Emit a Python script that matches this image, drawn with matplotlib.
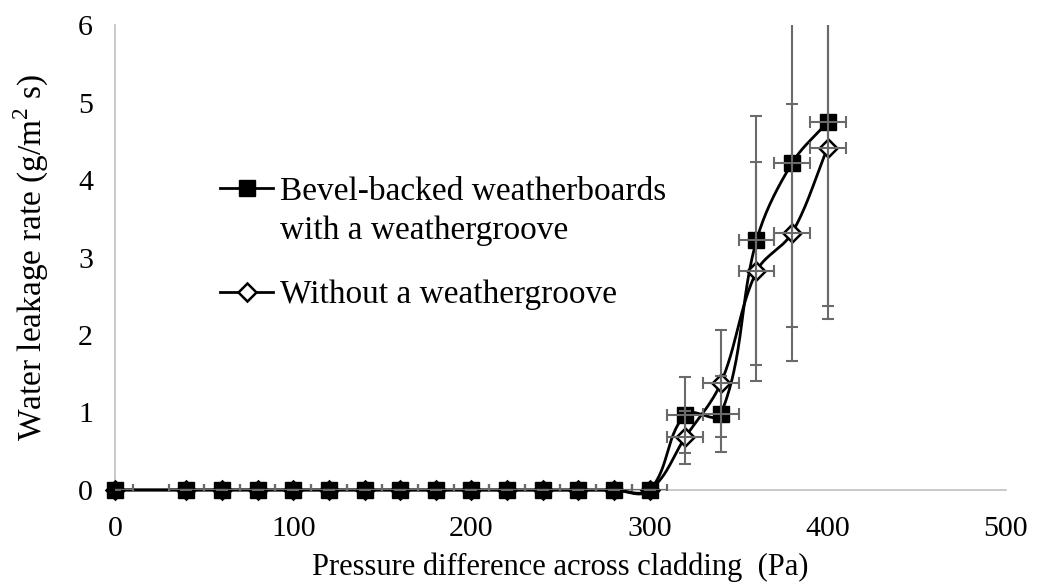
import numpy as np
import matplotlib
matplotlib.use("Agg")
import matplotlib.pyplot as plt
from matplotlib.lines import Line2D

plt.rcParams['font.family'] = ['Liberation Serif', 'DejaVu Serif']
plt.rcParams['mathtext.fontset'] = 'custom'
plt.rcParams['mathtext.rm'] = 'Liberation Serif'

# pressure steps (Pa)
pressure = [0, 40, 60, 80, 100, 120, 140, 160, 180, 200, 220, 240, 260, 280,
            300, 320, 340, 360, 380, 400]

# leakage rate (g/m2 s)
bevel_groove = [0]*15 + [0.97, 0.98, 3.22, 4.22, 4.75]
bevel_groove_err = [0]*15 + [0.49, 0.49, 1.61, 2.12, 2.38]
no_groove = [0]*15 + [0.68, 1.38, 2.82, 3.32, 4.42]
no_groove_err = [0]*15 + [0.34, 0.69, 1.41, 1.66, 2.21]
pressure_err = [10]*20

# rough screen aspect, so the smoothing works in display-like units
XSC, YSC = 1.78, 77.5


def smooth(x, y, n=30, k=0.35):
    # bezier through the points, tangent scaled by each side's chord length
    pts = np.column_stack([np.asarray(x, float)*XSC, np.asarray(y, float)*YSC])
    m = len(pts)
    tang = np.zeros_like(pts)
    for i in range(m):
        a = pts[max(i - 1, 0)]
        b = pts[min(i + 1, m - 1)]
        d = b - a
        nrm = np.hypot(*d)
        tang[i] = d/nrm if nrm > 0 else 0
    out = [pts[0]]
    t = np.linspace(0, 1, n)[1:]
    for i in range(m - 1):
        p0, p3 = pts[i], pts[i + 1]
        L = np.hypot(*(p3 - p0))
        p1 = p0 + tang[i]*L*k
        p2 = p3 - tang[i + 1]*L*k
        seg = ((1 - t)**3)[:, None]*p0 + (3*(1 - t)**2*t)[:, None]*p1 \
            + (3*(1 - t)*t**2)[:, None]*p2 + (t**3)[:, None]*p3
        out.extend(seg)
    out = np.array(out)
    return out[:, 0]/XSC, out[:, 1]/YSC


fig = plt.figure(figsize=(10.37, 5.84), dpi=100)
ax = fig.add_axes([0.111, 0.161, 0.859, 0.796])

grey = '#6a6a6a'

sx, sy = smooth(pressure, no_groove)
ax.plot(sx, sy, color='black', lw=2, zorder=3, clip_on=False)
sx, sy = smooth(pressure, bevel_groove)
ax.plot(sx, sy, color='black', lw=2, zorder=3, clip_on=False)

ax.plot(pressure, no_groove, ls='none', marker='D', ms=9, mfc='white',
        mec='black', mew=1.8, zorder=4, clip_on=False)
ax.plot(pressure, bevel_groove, ls='none', marker='s', ms=11, mfc='black',
        mec='black', zorder=5, clip_on=False)

for vals, errs in [(no_groove, no_groove_err), (bevel_groove, bevel_groove_err)]:
    ax.errorbar(pressure, vals, yerr=errs, xerr=pressure_err, fmt='none',
                ecolor=grey, elinewidth=1.5, capsize=4, capthick=1.5, zorder=6)

ax.set_xlim(0, 500)
ax.set_ylim(0, 6)
ax.set_xticks([0, 100, 200, 300, 400, 500])
ax.set_yticks([0, 1, 2, 3, 4, 5, 6])
ax.tick_params(length=0, labelsize=21.5)
ax.tick_params(axis='x', pad=19)
ax.tick_params(axis='y', pad=16)
for s in ['top', 'right']:
    ax.spines[s].set_visible(False)
for s in ['left', 'bottom']:
    ax.spines[s].set_color('#c0c0c0')
    ax.spines[s].set_linewidth(1.2)
    ax.spines[s].set_zorder(1)

ax.set_xlabel('Pressure difference across cladding  (Pa)', fontsize=22, labelpad=7)
ax.set_ylabel('Water leakage rate (g/m$^2$ s)', fontsize=24, labelpad=19)

h1 = Line2D([], [], color='black', lw=2, marker='s', ms=11, mfc='black')
h2 = Line2D([], [], color='black', lw=2, marker='D', ms=9, mfc='white', mew=1.8)
blank = Line2D([], [], color='none')

leg_fs = 24
leg1 = fig.legend([h1, blank], ['Bevel-backed weatherboards', 'with a weathergroove'],
                  loc='upper left', bbox_to_anchor=(0.212, 0.698), frameon=False,
                  fontsize=leg_fs, handlelength=1.6, handletextpad=0.2,
                  labelspacing=0.27, borderpad=0, borderaxespad=0)
leg2 = fig.legend([h2], ['Without a weathergroove'],
                  loc='upper left', bbox_to_anchor=(0.212, 0.521), frameon=False,
                  fontsize=leg_fs, handlelength=1.6, handletextpad=0.2,
                  borderpad=0, borderaxespad=0)

fig.savefig('out.png', dpi=100)
